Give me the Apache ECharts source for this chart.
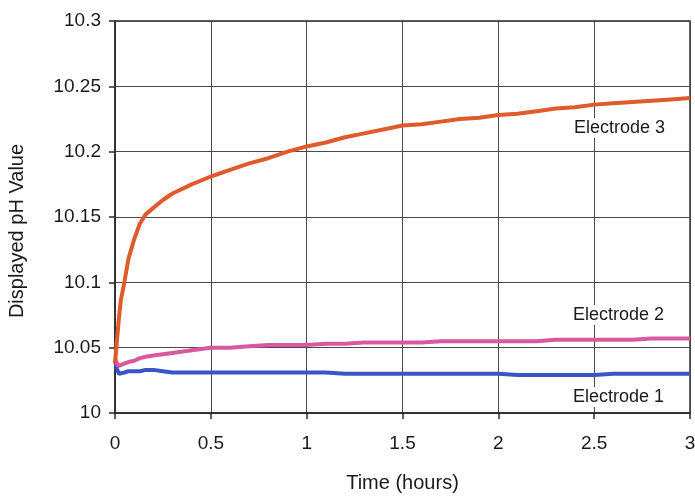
<!DOCTYPE html>
<html>
<head>
<meta charset="utf-8">
<script src="https://cdn.jsdelivr.net/npm/echarts@6/dist/echarts.min.js"></script>
<style>
html,body{margin:0;padding:0;background:#fff;}
#chart{width:695px;height:496px;}
</style>
</head>
<body>
<div id="chart"></div>
<script>
var times = [0, 0.01, 0.02, 0.03, 0.05, 0.07, 0.1, 0.13, 0.16, 0.2, 0.25, 0.3, 0.4, 0.5, 0.6, 0.7, 0.8, 0.9, 1.0, 1.1, 1.2, 1.3, 1.4, 1.5, 1.6, 1.7, 1.8, 1.9, 2.0, 2.1, 2.2, 2.3, 2.4, 2.5, 2.6, 2.7, 2.8, 2.9, 3.0];
var electrode3 = [10.038, 10.055, 10.072, 10.086, 10.101, 10.118, 10.133, 10.145, 10.152, 10.157, 10.163, 10.168, 10.175, 10.181, 10.186, 10.191, 10.195, 10.200, 10.204, 10.207, 10.211, 10.214, 10.217, 10.220, 10.221, 10.223, 10.225, 10.226, 10.228, 10.229, 10.231, 10.233, 10.234, 10.236, 10.237, 10.238, 10.239, 10.240, 10.241];
var electrode2 = [10.042, 10.038, 10.036, 10.037, 10.038, 10.039, 10.040, 10.042, 10.043, 10.044, 10.045, 10.046, 10.048, 10.050, 10.050, 10.051, 10.052, 10.052, 10.052, 10.053, 10.053, 10.054, 10.054, 10.054, 10.054, 10.055, 10.055, 10.055, 10.055, 10.055, 10.055, 10.056, 10.056, 10.056, 10.056, 10.056, 10.057, 10.057, 10.057];
var electrode1 = [10.040, 10.034, 10.030, 10.030, 10.031, 10.032, 10.032, 10.032, 10.033, 10.033, 10.032, 10.031, 10.031, 10.031, 10.031, 10.031, 10.031, 10.031, 10.031, 10.031, 10.030, 10.030, 10.030, 10.030, 10.030, 10.030, 10.030, 10.030, 10.030, 10.029, 10.029, 10.029, 10.029, 10.029, 10.030, 10.030, 10.030, 10.030, 10.030];
var seriesNames = ['Electrode 1', 'Electrode 2', 'Electrode 3'];
var xTitle = 'Time (hours)';
var yTitle = 'Displayed pH Value';

function pairs(vals) { return times.map(function (t, i) { return [t, vals[i]]; }); }

var chart = echarts.init(document.getElementById('chart'));
var font = 'Liberation Sans, Arial, sans-serif';
function lineSeries(name, vals, color) {
  return {
    name: name, type: 'line', data: pairs(vals), showSymbol: false, smooth: false,
    lineStyle: { color: color, width: 4 }, z: 3
  };
}
chart.setOption({
  animation: false,
  backgroundColor: '#ffffff',
  grid: { left: 115, right: 5, top: 21, bottom: 83, containLabel: false, outerBoundsMode: 'none', show: true, borderColor: '#2a2a2a', borderWidth: 1.5 },
  xAxis: {
    type: 'value', min: 0, max: 3, interval: 0.5,
    name: xTitle, nameLocation: 'middle', nameGap: 60,
    nameTextStyle: { fontFamily: font, fontSize: 20, color: '#1a1a1a' },
    axisLine: { show: true, lineStyle: { color: '#2a2a2a', width: 1.5 } },
    axisTick: { show: true, inside: false, length: 6, lineStyle: { color: '#2a2a2a', width: 1.5 } },
    axisLabel: { fontFamily: font, fontSize: 19, color: '#1a1a1a', margin: 21 },
    splitLine: { show: true, lineStyle: { color: '#4a4a4a', width: 1 } }
  },
  yAxis: {
    type: 'value', min: 10, max: 10.3, interval: 0.05,
    name: yTitle, nameLocation: 'middle', nameGap: 88, nameRotate: 90,
    nameTextStyle: { fontFamily: font, fontSize: 20, color: '#1a1a1a', padding: [0, 28, 0, 0] },
    axisLine: { show: true, lineStyle: { color: '#2a2a2a', width: 1.5 } },
    axisTick: { show: true, inside: false, length: 6, lineStyle: { color: '#2a2a2a', width: 1.5 } },
    axisLabel: { fontFamily: font, fontSize: 19, color: '#1a1a1a', margin: 14 },
    splitLine: { show: true, lineStyle: { color: '#4a4a4a', width: 1 } }
  },
  series: [
    lineSeries(seriesNames[0], electrode1, '#3b55c6'),
    lineSeries(seriesNames[1], electrode2, '#d9589e'),
    lineSeries(seriesNames[2], electrode3, '#df5a2c')
  ],
  graphic: [
    { type: 'text', left: 572, top: 118, z: 10, style: { text: seriesNames[2], font: '18px ' + font, fill: '#1a1a1a', backgroundColor: '#fff', padding: [1, 2] } },
    { type: 'text', left: 571, top: 305, z: 10, style: { text: seriesNames[1], font: '18px ' + font, fill: '#1a1a1a', backgroundColor: '#fff', padding: [1, 2] } },
    { type: 'text', left: 571, top: 387, z: 10, style: { text: seriesNames[0], font: '18px ' + font, fill: '#1a1a1a', backgroundColor: '#fff', padding: [1, 2] } }
  ]
});
</script>
</body>
</html>
